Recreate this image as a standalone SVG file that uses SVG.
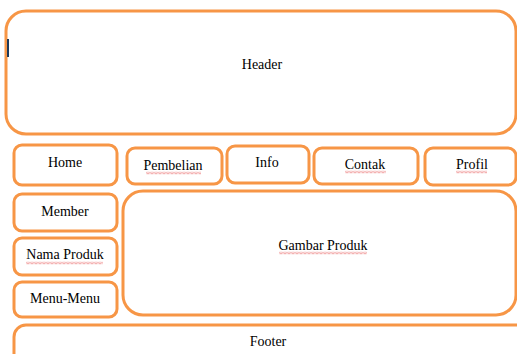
<svg xmlns="http://www.w3.org/2000/svg" width="517" height="354" viewBox="0 0 517 354">
<defs>
<style>
.box{fill:#fff;stroke:#F79646;stroke-width:3}
.t{font-family:"Liberation Serif","Times New Roman",serif;font-size:14px;fill:#000;text-anchor:middle}
</style>
<pattern id="wave" patternUnits="userSpaceOnUse" width="4" height="3">
<path d="M0,0.5 L2,2.5 L4,0.5" fill="none" stroke="#E03030" stroke-width="0.8"/>
</pattern>
</defs>
<rect width="517" height="354" fill="#fff"/>
<g id="header">
<rect class="box" x="6" y="11" width="510" height="123" rx="20"/>
<rect x="7" y="39" width="2" height="18" fill="#1F3A5A"/>
<text class="t" x="262" y="69">Header</text>
</g>
<g id="home">
<rect class="box" x="14" y="145" width="103" height="40" rx="8"/>
<text class="t" x="65" y="167">Home</text>
</g>
<g id="pembelian">
<rect class="box" x="127" y="148" width="95" height="36" rx="8"/>
<text class="t" x="173" y="170">Pembelian</text>
<g transform="translate(146,171.5)"><rect width="55" height="3" fill="url(#wave)"/></g>
</g>
<g id="info">
<rect class="box" x="227" y="146" width="82" height="37" rx="8"/>
<text class="t" x="267" y="167">Info</text>
</g>
<g id="contak">
<rect class="box" x="314" y="148" width="104" height="36" rx="8"/>
<text class="t" x="365" y="169">Contak</text>
<g transform="translate(345,170.5)"><rect width="41" height="3" fill="url(#wave)"/></g>
</g>
<g id="profil">
<rect class="box" x="425" y="148" width="91" height="37" rx="8"/>
<text class="t" x="472" y="169">Profil</text>
<g transform="translate(456,170.5)"><rect width="31" height="3" fill="url(#wave)"/></g>
</g>
<g id="member">
<rect class="box" x="14" y="194" width="103" height="37" rx="8"/>
<text class="t" x="65" y="216">Member</text>
</g>
<g id="nama-produk">
<rect class="box" x="14" y="238" width="103" height="37" rx="8"/>
<text class="t" x="65" y="259">Nama Produk</text>
<g transform="translate(26,261.5)"><rect width="77" height="3" fill="url(#wave)"/></g>
</g>
<g id="menu-menu">
<rect class="box" x="14" y="282" width="103" height="35" rx="8"/>
<text class="t" x="65" y="303">Menu-Menu</text>
</g>
<g id="gambar-produk">
<rect class="box" x="123" y="191" width="393" height="124" rx="20"/>
<text class="t" x="323" y="250">Gambar Produk</text>
<g transform="translate(279,251.5)"><rect width="88" height="3" fill="url(#wave)"/></g>
</g>
<g id="footer">
<rect class="box" x="14" y="325" width="530" height="60" rx="12"/>
<text class="t" x="268" y="346">Footer</text>
</g>
<g id="connectors"></g>
</svg>
